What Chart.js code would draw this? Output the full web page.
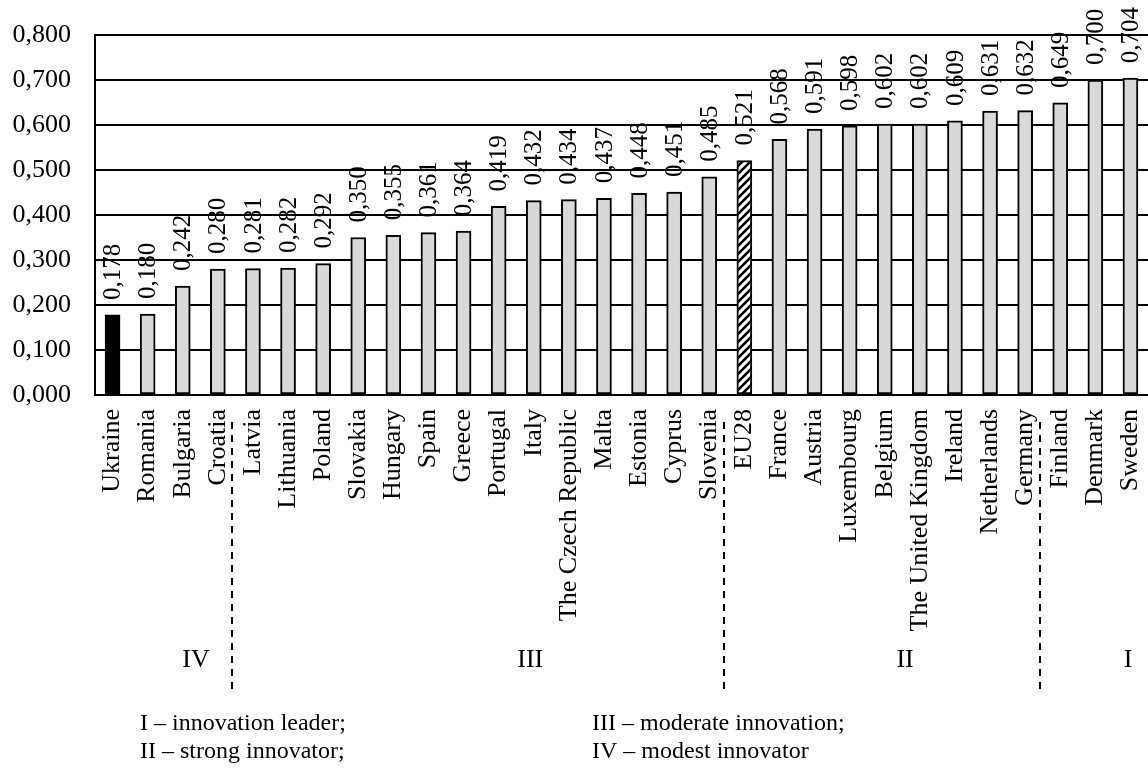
<!DOCTYPE html>
<html>
<head>
<meta charset="utf-8">
<script src="https://cdn.jsdelivr.net/npm/chart.js@4.4.1/dist/chart.umd.min.js"></script>
<style>
  html, body { margin: 0; padding: 0; background: #fff; }
  #wrap { width: 1148px; height: 778px; }
</style>
</head>
<body>
<div id="wrap"><canvas id="chart" width="1148" height="778"></canvas></div>
<script>
const countries = [
  "Ukraine", "Romania", "Bulgaria", "Croatia", "Latvia", "Lithuania", "Poland",
  "Slovakia", "Hungary", "Spain", "Greece", "Portugal", "Italy", "The Czech Republic",
  "Malta", "Estonia", "Cyprus", "Slovenia", "EU28", "France", "Austria", "Luxembourg",
  "Belgium", "The United Kingdom", "Ireland", "Netherlands", "Germany", "Finland",
  "Denmark", "Sweden"
];
const scores = [
  0.178, 0.180, 0.242, 0.280, 0.281, 0.282, 0.292,
  0.350, 0.355, 0.361, 0.364, 0.419, 0.432, 0.434,
  0.437, 0.448, 0.451, 0.485, 0.521, 0.568, 0.591, 0.598,
  0.602, 0.602, 0.609, 0.631, 0.632, 0.649,
  0.700, 0.704
];
const yTicks = [0, 0.1, 0.2, 0.3, 0.4, 0.5, 0.6, 0.7, 0.8];

// groups: name and index of the last country in each group
const groupNames = ["IV", "III", "II", "I"];
const groupLastIndex = [3, 17, 26, 29];

const legendLeft = ["I \u2013 innovation leader;", "II \u2013 strong innovator;"];
const legendRight = ["III \u2013 moderate innovation;", "IV \u2013 modest innovator"];

const FONT = '"Liberation Serif", "Times New Roman", serif';
const fmt = (v) => v.toFixed(3).replace(".", ",");

function hatchPattern() {
  const c = document.createElement("canvas");
  c.width = 8;
  c.height = 8;
  const g = c.getContext("2d");
  g.fillStyle = "#fff";
  g.fillRect(0, 0, 8, 8);
  g.strokeStyle = "#000";
  g.lineWidth = 2.6;
  g.beginPath();
  g.moveTo(-2, 10); g.lineTo(10, -2);
  g.moveTo(-6, 6); g.lineTo(6, -6);
  g.moveTo(2, 14); g.lineTo(14, 2);
  g.stroke();
  return g.createPattern(c, "repeat");
}

const hatch = hatchPattern();
const barColors = countries.map((c) => c === "Ukraine" ? "#000" : c === "EU28" ? hatch : "#d9d9d9");

const valueLabels = {
  id: "valueLabels",
  afterDatasetsDraw(chart) {
    const ctx = chart.ctx;
    const meta = chart.getDatasetMeta(0);
    ctx.save();
    ctx.font = "25px " + FONT;
    ctx.fillStyle = "#000";
    ctx.textAlign = "left";
    ctx.textBaseline = "middle";
    meta.data.forEach((bar, i) => {
      ctx.save();
      ctx.translate(bar.x + 1, bar.y - 15);
      ctx.rotate(-Math.PI / 2);
      ctx.fillText(fmt(scores[i]), 0, 0);
      ctx.restore();
    });
    ctx.restore();
  }
};

const groupMarks = {
  id: "groupMarks",
  afterDraw(chart) {
    const ctx = chart.ctx;
    const x = chart.scales.x;
    ctx.save();
    // dashed separators
    ctx.strokeStyle = "#000";
    ctx.lineWidth = 2;
    ctx.setLineDash([7, 6]);
    groupLastIndex.slice(0, -1).forEach((last) => {
      const px = Math.round(x.getPixelForValue(last + 0.5)) - 3;
      ctx.beginPath();
      ctx.moveTo(px, 422);
      ctx.lineTo(px, 693);
      ctx.stroke();
    });
    ctx.setLineDash([]);
    // group names
    const shift = [0.88, 1.4, 0.58, 0.93];
    ctx.font = "26px " + FONT;
    ctx.fillStyle = "#000";
    ctx.textAlign = "center";
    ctx.textBaseline = "middle";
    let first = 0;
    groupNames.forEach((name, i) => {
      const mid = (first + groupLastIndex[i]) / 2 + shift[i];
      ctx.fillText(name, x.getPixelForValue(mid), 660);
      first = groupLastIndex[i] + 1;
    });
    // explanation lines
    ctx.font = "24px " + FONT;
    ctx.textAlign = "left";
    legendLeft.forEach((t, i) => ctx.fillText(t, 140, 724 + i * 28));
    legendRight.forEach((t, i) => ctx.fillText(t, 592, 724 + i * 28));
    ctx.restore();
  }
};

new Chart(document.getElementById("chart").getContext("2d"), {
  type: "bar",
  data: {
    labels: countries,
    datasets: [{
      data: scores,
      backgroundColor: barColors,
      borderColor: "#000",
      borderWidth: 2,
      borderSkipped: false,
      barThickness: 15
    }]
  },
  options: {
    responsive: false,
    animation: false,
    devicePixelRatio: 1,
    layout: { padding: { top: 35, right: 0, left: 0, bottom: 0 } },
    plugins: { legend: { display: false }, tooltip: { enabled: false } },
    scales: {
      y: {
        min: 0,
        max: 0.8,
        afterBuildTicks: (s) => { s.ticks = yTicks.map((v) => ({ value: v })); },
        afterFit: (s) => { s.width = 95; s.paddingTop = 0; s.paddingBottom = 0; },
        ticks: {
          color: "#000",
          padding: 24,
          font: { family: FONT, size: 26 },
          callback: (v) => fmt(v)
        },
        grid: { color: "#000", lineWidth: 2, drawTicks: false },
        border: { color: "#000", width: 2 }
      },
      x: {
        afterFit: (s) => { s.height = 778 - 395; s.paddingLeft = 0; s.paddingRight = 0; },
        ticks: {
          color: "#000",
          autoSkip: false,
          maxRotation: 90,
          minRotation: 90,
          padding: 14,
          font: { family: FONT, size: 26 }
        },
        grid: { display: false, drawTicks: false },
        border: { color: "#000", width: 2 }
      }
    }
  },
  plugins: [valueLabels, groupMarks]
});
</script>
</body>
</html>
